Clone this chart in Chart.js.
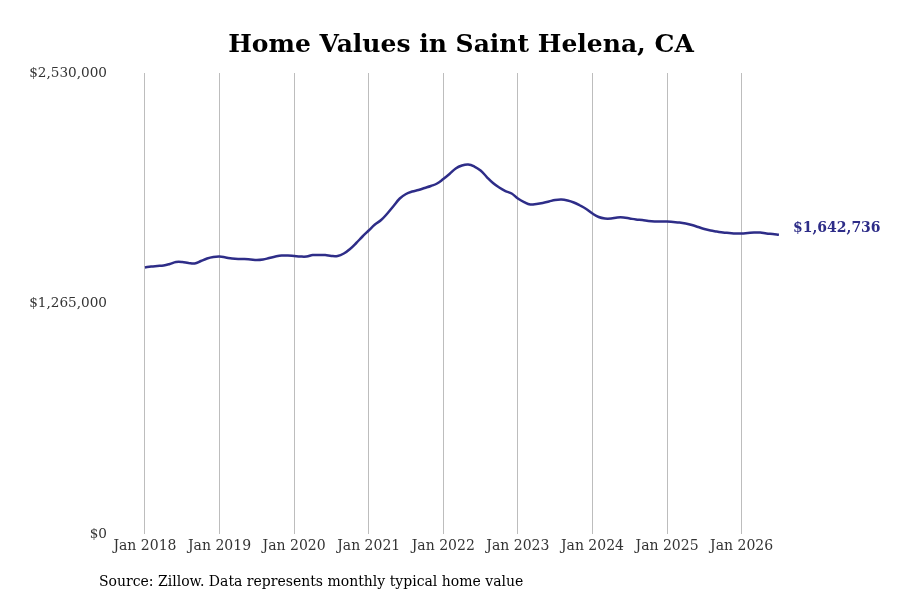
<!DOCTYPE html>
<html>
<head>
<meta charset="utf-8">
<script src="https://cdn.jsdelivr.net/npm/chart.js@4.4.1/dist/chart.umd.min.js"></script>
<style>
  html, body { margin: 0; padding: 0; background: #fff; }
  #wrap { width: 900px; height: 600px; }
</style>
</head>
<body>
<div id="wrap"><canvas id="chart" width="900" height="600"></canvas></div>
<script>
// Monthly typical home value, Jan 2018 .. Jul 2026
const START_YEAR = 2018;
const homeValues = [
  1462600, 1468100, 1470800, 1473500, 1481800, 1492700, 1492700, 1487200, 1484500, 1498200, 1511900, 1520200,
  1522900, 1517500, 1511900, 1509200, 1509200, 1506500, 1503700, 1506500, 1514700, 1522900, 1528400, 1528400,
  1525700, 1522900, 1522900, 1531200, 1531200, 1531200, 1525700, 1525700, 1539400, 1564100, 1597000, 1632700,
  1665600, 1698500, 1723200, 1758900, 1800100, 1841200, 1865900, 1879600, 1887900, 1898800, 1909800, 1923500,
  1948200, 1975700, 2005900, 2022300, 2027800, 2016800, 1994900, 1959200, 1926300, 1901600, 1882400, 1868600,
  1841200, 1822000, 1808300, 1811000, 1816500, 1824700, 1833000, 1835700, 1830200, 1819300, 1802800, 1783600,
  1758900, 1739700, 1731500, 1731500, 1737000, 1737000, 1731500, 1726000, 1723200, 1717700, 1715000, 1715000,
  1715000, 1712300, 1709500, 1704000, 1695800, 1684800, 1673800, 1665600, 1660100, 1654600, 1651900, 1649100,
  1649100, 1651900, 1654600, 1654600, 1649100, 1646400, 1642736
];
const yTicks = [0, 1265000, 2530000];
const xTickMonths = [0, 12, 24, 36, 48, 60, 72, 84, 96];
const xTickLabels = ['Jan 2018', 'Jan 2019', 'Jan 2020', 'Jan 2021', 'Jan 2022', 'Jan 2023', 'Jan 2024', 'Jan 2025', 'Jan 2026'];

const TITLE = 'Home Values in Saint Helena, CA';
const SOURCE = 'Source: Zillow. Data represents monthly typical home value';
const LINE_COLOR = '#2e2d88';
const FONT = '"DejaVu Serif", "Liberation Serif", serif';

const fmtMoney = v => '$' + Math.round(v).toLocaleString('en-US');

// Title, source note and end-of-line value label
const annotations = {
  id: 'annotations',
  afterDraw(chart) {
    const { ctx, chartArea } = chart;
    ctx.save();
    ctx.fillStyle = '#000';
    ctx.font = 'bold 25px ' + FONT;
    ctx.textAlign = 'center';
    ctx.textBaseline = 'middle';
    ctx.fillText(TITLE, (chartArea.left + chartArea.right) / 2, 45);

    ctx.font = '14px ' + FONT;
    ctx.textAlign = 'left';
    ctx.fillText(SOURCE, 99, 582);

    const meta = chart.getDatasetMeta(0);
    const last = meta.data[meta.data.length - 1];
    ctx.fillStyle = LINE_COLOR;
    ctx.font = 'bold 14px ' + FONT;
    ctx.fillText(fmtMoney(homeValues[homeValues.length - 1]), last.x + 14, last.y - 6);
    ctx.restore();
  }
};

new Chart(document.getElementById('chart'), {
  type: 'line',
  data: {
    datasets: [{
      data: homeValues.map((v, i) => ({ x: i, y: v })),
      borderColor: LINE_COLOR,
      borderWidth: 2.5,
      pointRadius: 0,
      tension: 0.4,
      fill: false
    }]
  },
  options: {
    responsive: false,
    animation: false,
    layout: { padding: { left: 0, right: 90, top: 73, bottom: 0 } },
    plugins: { legend: { display: false }, tooltip: { enabled: false }, title: { display: false } },
    scales: {
      x: {
        type: 'linear',
        min: -5.3,
        max: 107.0,
        afterBuildTicks: s => { s.ticks = xTickMonths.map(v => ({ value: v })); },
        afterFit: s => { s.height = 66; },
        ticks: {
          callback: v => xTickLabels[xTickMonths.indexOf(v)],
          color: '#333',
          font: { family: FONT, size: 14 },
          padding: 4,
          maxRotation: 0,
          autoSkip: false
        },
        grid: { color: '#bdbdbd', lineWidth: 1, drawTicks: false, tickLength: 0 },
        border: { display: false }
      },
      y: {
        min: 0,
        max: 2530000,
        afterBuildTicks: s => { s.ticks = yTicks.map(v => ({ value: v })); },
        afterFit: s => { s.width = 112; },
        ticks: {
          callback: v => fmtMoney(v),
          color: '#333',
          font: { family: FONT, size: 13.6 },
          padding: 5
        },
        grid: { display: false, drawTicks: false, tickLength: 0 },
        border: { display: false }
      }
    }
  },
  plugins: [annotations]
});
</script>
</body>
</html>
